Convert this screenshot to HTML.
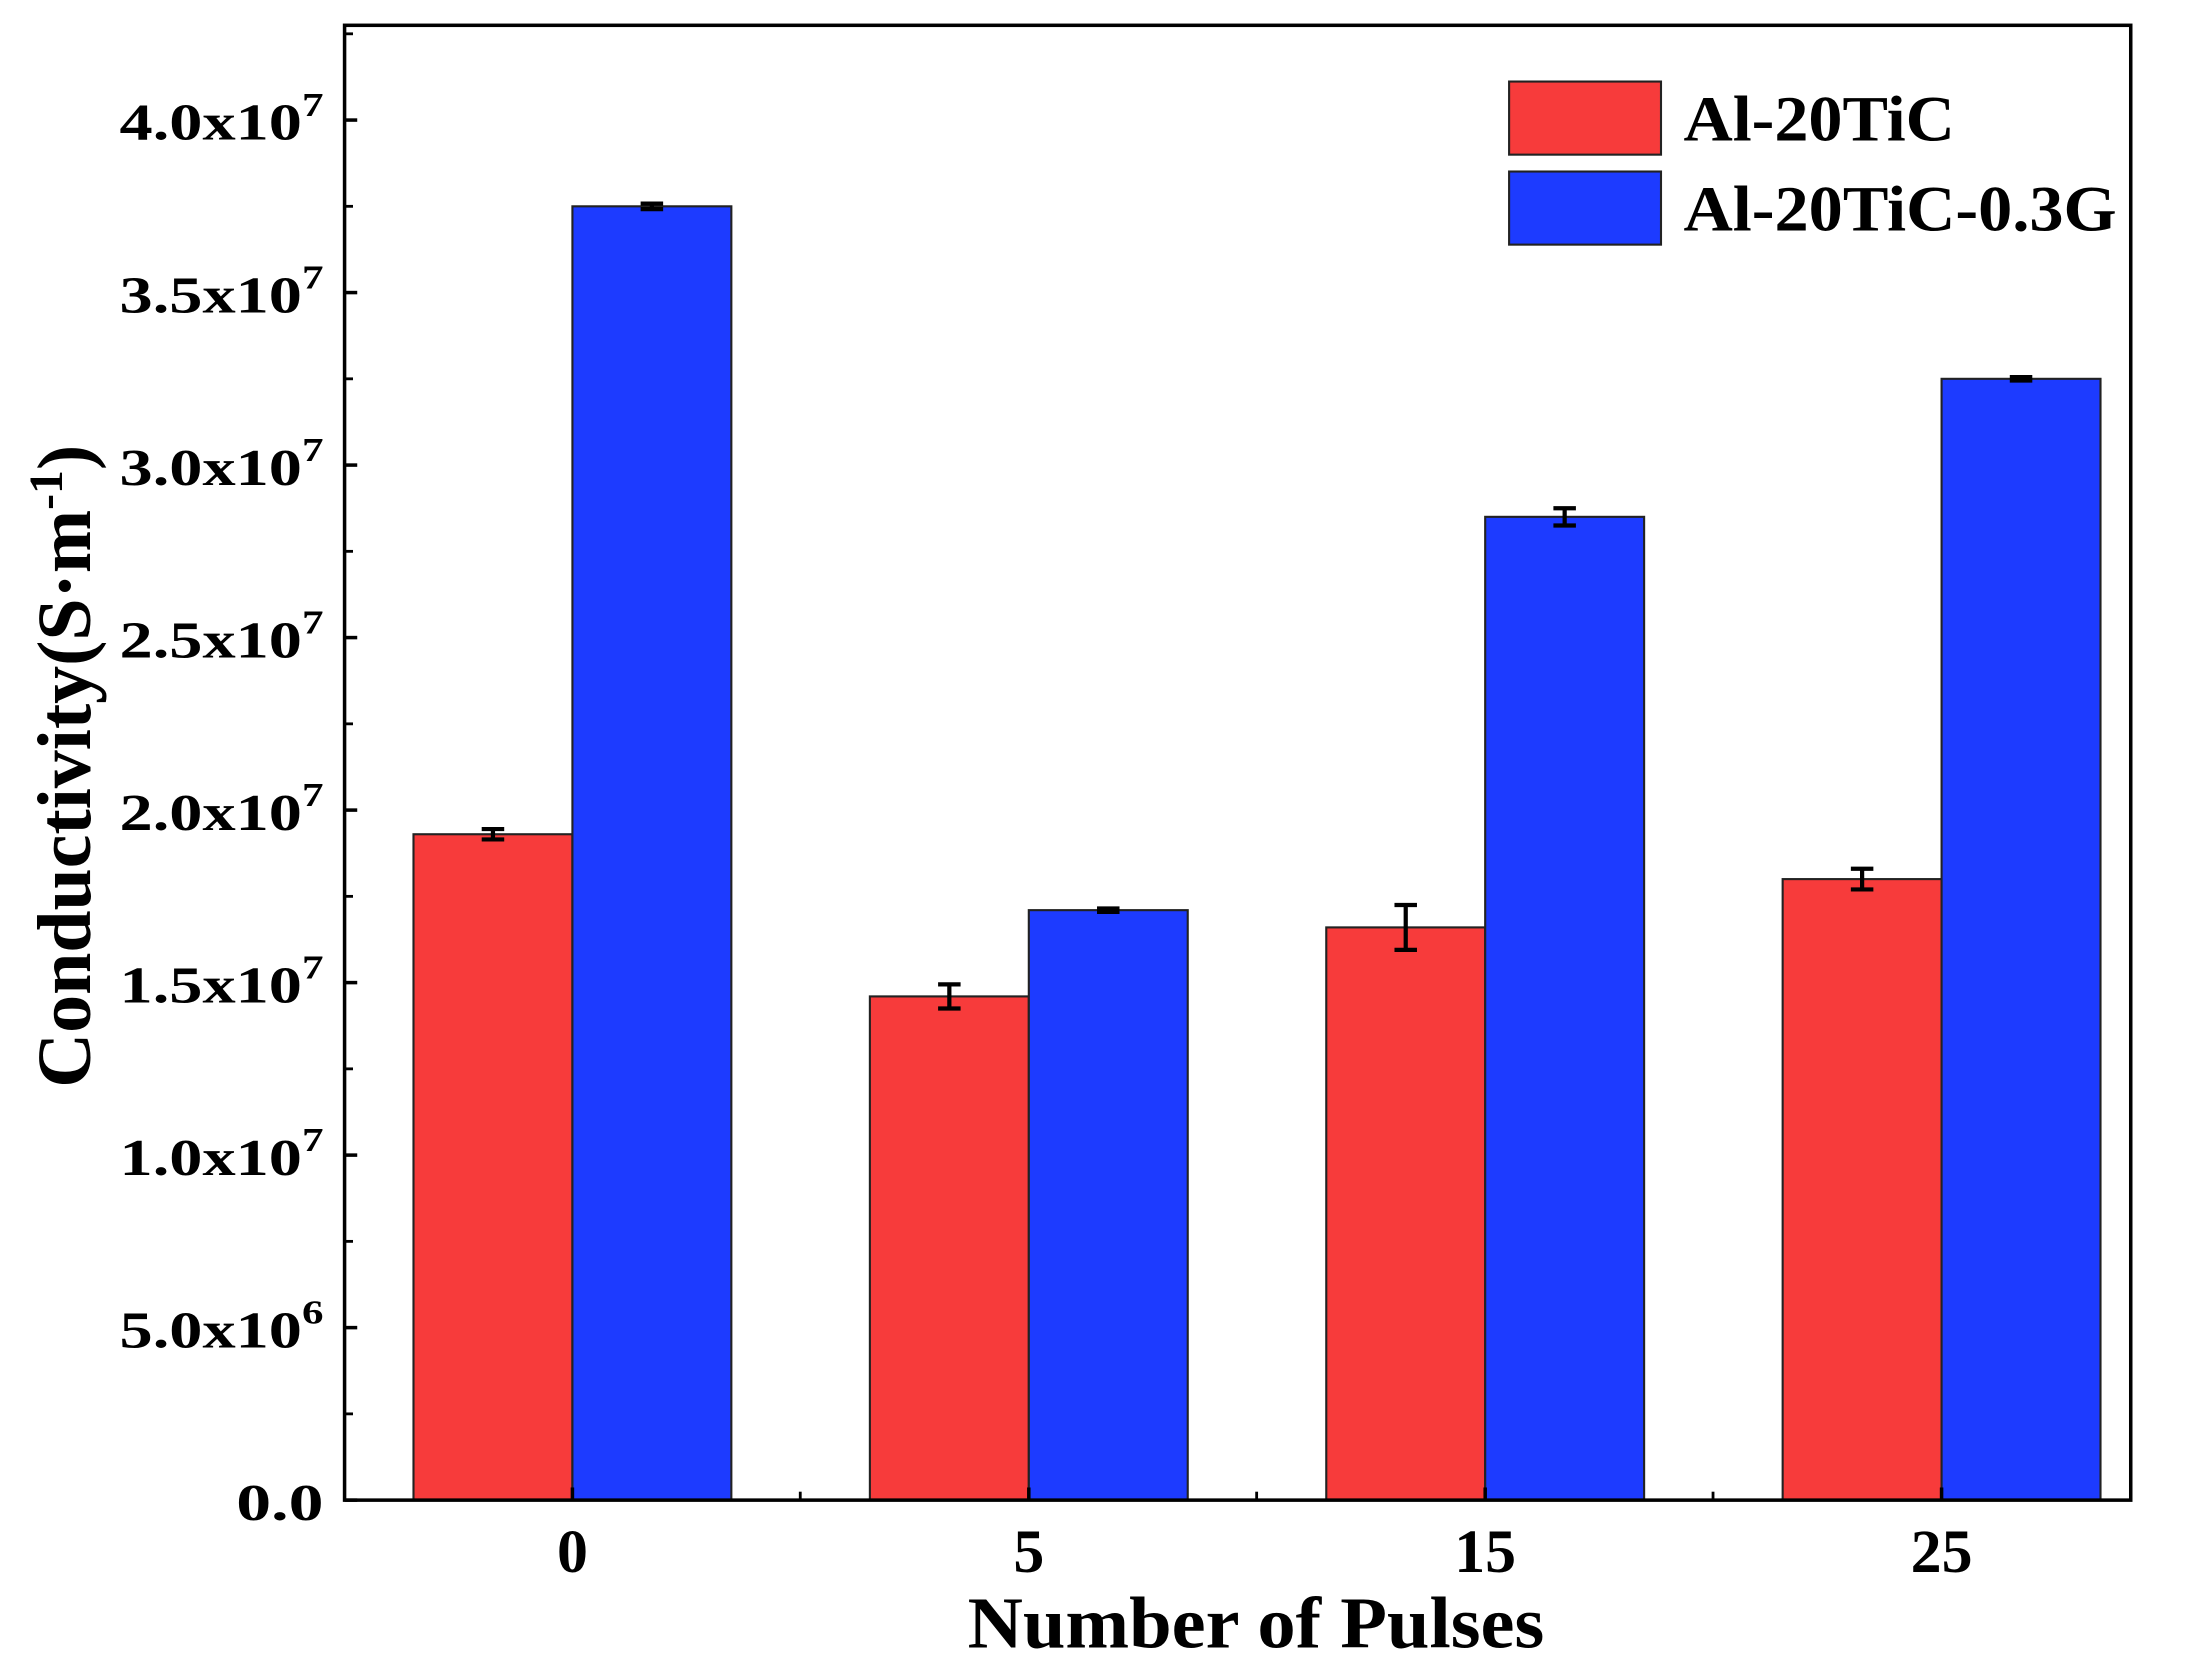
<!DOCTYPE html>
<html><head><meta charset="utf-8"><style>
html,body{margin:0;padding:0;background:#fff;}
svg{display:block;font-family:"Liberation Serif",serif;font-weight:bold;}
</style></head><body>
<svg id="chart" width="2187" height="1659" viewBox="0 0 1555 1180" preserveAspectRatio="none" xmlns="http://www.w3.org/2000/svg"></svg>
<script>
const categories = ["0", "5", "15", "25"];
const seriesNames = ["Al-20TiC", "Al-20TiC-0.3G"];
const redValues = [19.3e6, 14.6e6, 16.6e6, 18.0e6];
const redErrors = [0.15e6, 0.35e6, 0.65e6, 0.3e6];
const blueValues = [37.5e6, 17.1e6, 28.5e6, 32.5e6];
const blueErrors = [0.08e6, 0.05e6, 0.25e6, 0.05e6];
const yTickValues = [0, 5e6, 1e7, 1.5e7, 2e7, 2.5e7, 3e7, 3.5e7, 4e7];
const yTickMantissa = ["0.0", "5.0", "1.0", "1.5", "2.0", "2.5", "3.0", "3.5", "4.0"];
const yTickExp = ["", "6", "7", "7", "7", "7", "7", "7", "7"];

const NS = "http://www.w3.org/2000/svg";
const svg = document.getElementById("chart");
const L = 245, R = 1515, T = 18, B = 1067;
const yMax = (B - T) / 24.54 * 1e6;
const y = v => B - v / yMax * (B - T);
const xc = i => 407 + i * 324.5;
const barW = 113;
function mk(tag, attrs, parent) {
  const e = document.createElementNS(NS, tag);
  for (const k in attrs) e.setAttribute(k, attrs[k]);
  (parent || svg).appendChild(e);
  return e;
}
const colors = ["#f73b3b", "#1d3bff"];
[redValues, blueValues].forEach((vals, s) => {
  const errs = s === 0 ? redErrors : blueErrors;
  vals.forEach((v, i) => {
    const x0 = s === 0 ? xc(i) - barW : xc(i);
    const r = mk("rect", {x: x0, y: y(v), width: barW, height: B - y(v), fill: colors[s], stroke: "#222", "stroke-width": 1.5});
    
    
    const cx = x0 + barW / 2, e = errs[i];
    const g = mk("g", {stroke: "#000", "stroke-width": 3});
    
    
    mk("line", {x1: cx, x2: cx, y1: y(v + e), y2: y(v - e)}, g);
    mk("line", {x1: cx - 8, x2: cx + 8, y1: y(v + e), y2: y(v + e)}, g);
    mk("line", {x1: cx - 8, x2: cx + 8, y1: y(v - e), y2: y(v - e)}, g);
  });
});
const frame = mk("rect", {x: L, y: T, width: R - L, height: B - T, fill: "none", stroke: "#000", "stroke-width": 2.5});


yTickValues.forEach((v, i) => {
  const yy = y(v);
  mk("line", {x1: L, x2: L + 9, y1: yy, y2: yy, stroke: "#000", "stroke-width": 2.5});
  const mid = y(v + 2.5e6);
  if (mid > T) mk("line", {x1: L, x2: L + 6, y1: mid, y2: mid, stroke: "#000", "stroke-width": 2});
  const t = mk("text", {x: 230, y: yy + 14, "text-anchor": "end", "font-size": 37, textLength: yTickExp[i] ? 145 : 62, lengthAdjust: "spacingAndGlyphs"});
  
  
  if (yTickExp[i]) {
    t.textContent = yTickMantissa[i] + "x10";
    const sp = mk("tspan", {dy: -17, "font-size": 24}, t);
    sp.textContent = yTickExp[i];
  } else t.textContent = yTickMantissa[i];
});
categories.forEach((c, i) => {
  mk("line", {x1: xc(i), x2: xc(i), y1: B, y2: B - 9, stroke: "#000", "stroke-width": 2.5});
  if (i < categories.length - 1) {
    const m = xc(i) + 162;
    mk("line", {x1: m, x2: m, y1: B, y2: B - 6, stroke: "#000", "stroke-width": 2});
  }
  const t = mk("text", {x: xc(i), y: 1118, "text-anchor": "middle", "font-size": 44});
  
  
  t.textContent = c;
});
const xt = mk("text", {x: 893, y: 1172, "text-anchor": "middle", "font-size": 52, textLength: 410, lengthAdjust: "spacingAndGlyphs"});


xt.textContent = "Number of Pulses";
const yt = mk("text", {x: 0, y: 0, "text-anchor": "middle", "font-size": 54, transform: "translate(64,545) rotate(-90)"});


yt.textContent = "Conductivity(S·m";
const ys = mk("tspan", {dy: -20, "font-size": 34}, yt);
ys.textContent = "-1";
const ye = mk("tspan", {dy: 20}, yt);
ye.textContent = ")";
seriesNames.forEach((n, i) => {
  const g = mk("g", {});
  
  
  const yy = 58 + i * 64;
  mk("rect", {x: 1073, y: yy, width: 108, height: 52, fill: colors[i], stroke: "#222", "stroke-width": 1.5}, g);
  const t = mk("text", {x: 1197, y: yy + 42, "font-size": 46, textLength: i === 0 ? 193 : 308, lengthAdjust: "spacingAndGlyphs"}, g);
  t.textContent = n;
});
</script>
</body></html>
